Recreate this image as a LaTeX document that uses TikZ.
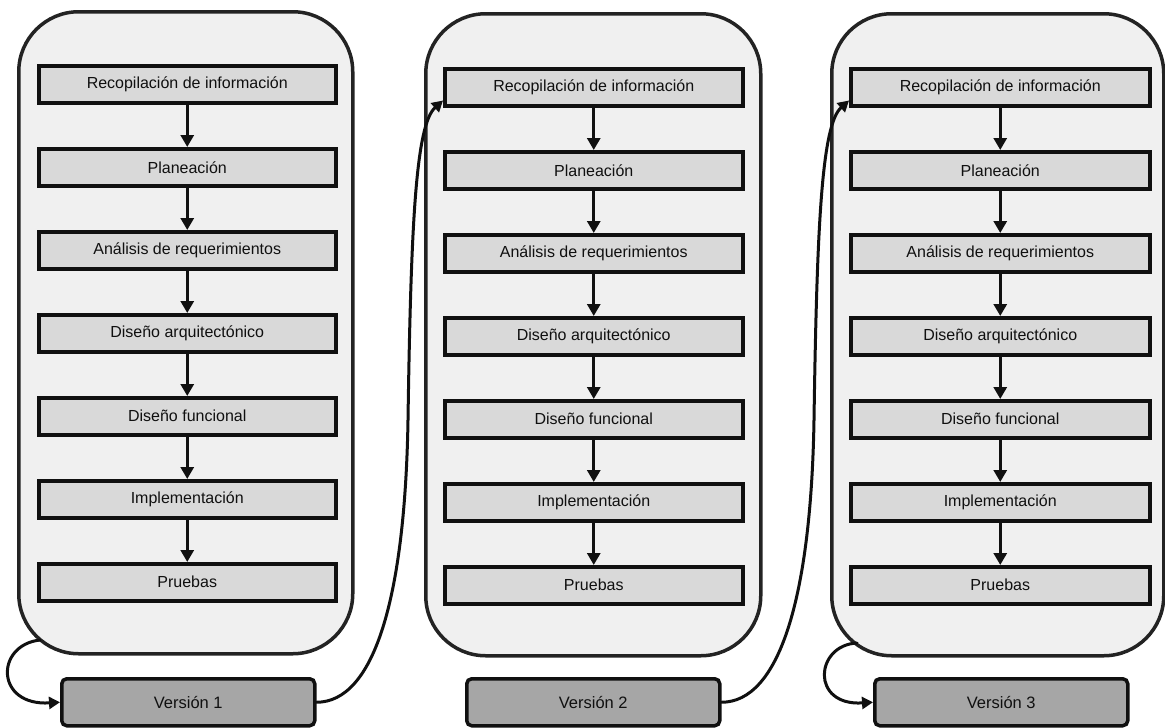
\documentclass[tikz,border=0pt]{standalone}
\usepackage{fontspec}
\setmainfont{Liberation Sans}
\usetikzlibrary{arrows.meta,calc}
\definecolor{panelfill}{HTML}{F0F0F0}
\definecolor{boxfill}{HTML}{D9D9D9}
\definecolor{verfill}{HTML}{A6A6A6}
\definecolor{ink}{HTML}{101010}
\begin{document}
\begin{tikzpicture}[x=1pt,y=-1pt,
  panel/.style={draw=ink!92, line width=3.5pt, fill=panelfill, rounded corners=60pt,
    minimum height=642pt, anchor=north west, inner sep=0pt},
  stepbox/.style={draw=ink, line width=3.5pt, fill=boxfill, minimum height=37pt,
    anchor=north west, inner sep=0pt, text=ink,
    font=\fontsize{16}{19}\selectfont},
  verbox/.style={draw=ink, line width=3.5pt, fill=verfill, rounded corners=5pt,
    minimum width=253pt, minimum height=47pt, anchor=north west, inner sep=0pt,
    text=ink, font=\fontsize{16.5}{19}\selectfont},
  flow/.style={draw=ink, line width=3.2pt, -{Triangle[width=13pt,length=12pt]}},
  conn/.style={draw=ink, line width=3pt, line cap=round,
    -{Triangle[width=12pt,length=11pt]}}
]
\useasboundingbox (0,0) rectangle (1165,728);

% three iteration panels
\node[panel, minimum width=334pt] (p1) at (17,10) {};
\node[panel, minimum width=335pt] (p2) at (424,12) {};
\node[panel, minimum width=332pt] (p3) at (830,12) {};

% process steps inside each panel, linked top to bottom
\foreach \p/\bx/\by/\bw in {1/37/64/297, 2/443/67/298, 3/849/67/299}{
  \foreach \t [count=\k from 0] in {Recopilación de información, Planeación,
      Análisis de requerimientos, Diseño arquitectónico, Diseño funcional,
      Implementación, Pruebas}{
    \node[stepbox, minimum width=\bw pt] (b\p-\k) at (\bx,{\by+83*\k}) {\t};
  }
  \foreach \k in {0,...,5}{
    \pgfmathtruncatemacro{\n}{\k+1}
    \draw[flow] (b\p-\k.south) -- (b\p-\n.north);
  }
}

% released versions
\node[verbox] (v1) at (60,677) {Versión 1};
\node[verbox] (v2) at (465,677) {Versión 2};
\node[verbox] (v3) at (873,677) {Versión 3};

% panel -> version loops
\coordinate (l1) at (40,640);
\coordinate (l3) at (857,643);
\draw[conn] (l1) .. controls +(-45,5) and +(-65,4) .. (v1.west);
\draw[conn] (l3) .. controls +(-42,2) and +(-63,4) .. (v3.west);

% version -> next iteration
\coordinate (m1) at (408,420);
\coordinate (m2) at (814,420);
\draw[conn] (v1.east) .. controls +(57,0) and +(-3,180) .. (m1)
  .. controls +(3,-200) and +(-27,24) .. ($(b2-0.south west)+(0,-7)$);
\draw[conn] (v2.east) .. controls +(57,0) and +(-3,180) .. (m2)
  .. controls +(3,-200) and +(-27,24) .. ($(b3-0.south west)+(0,-7)$);
\end{tikzpicture}
\end{document}
